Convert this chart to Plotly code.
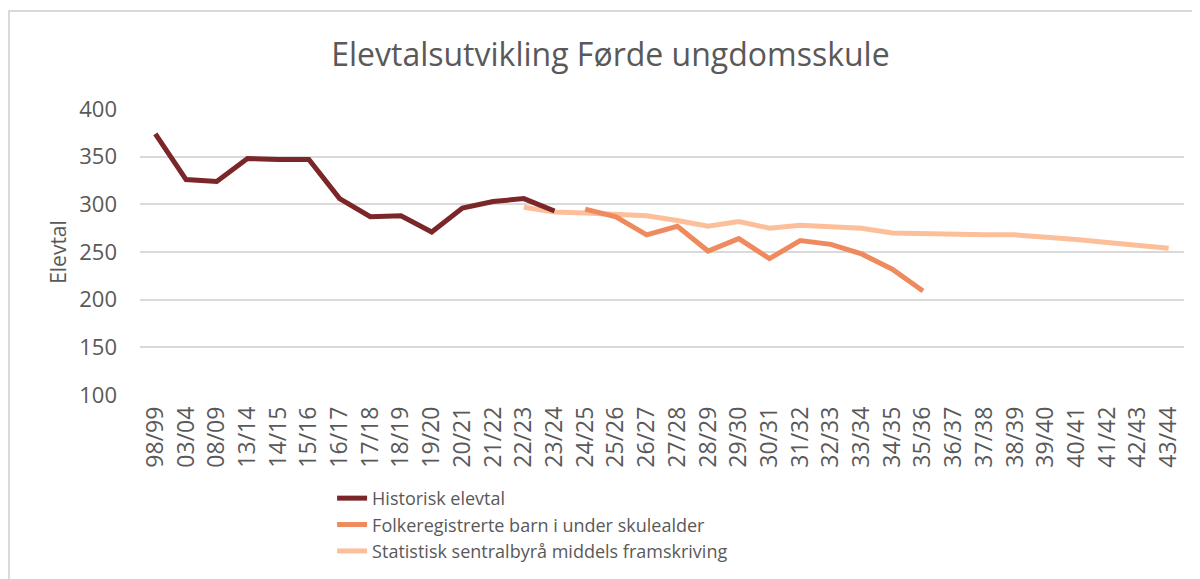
import plotly.graph_objects as go

categories = ["98/99", "03/04", "08/09", "13/14", "14/15", "15/16", "16/17", "17/18",
              "18/19", "19/20", "20/21", "21/22", "22/23", "23/24", "24/25", "25/26",
              "26/27", "27/28", "28/29", "29/30", "30/31", "31/32", "32/33", "33/34",
              "34/35", "35/36", "36/37", "37/38", "38/39", "39/40", "40/41", "41/42",
              "42/43", "43/44"]

historisk = [374, 326, 324, 348, 347, 347, 306, 287, 288, 271, 296, 303, 306, 293] + [None] * 20

folkeregister = [None] * 14 + [295, 287, 268, 277, 251, 264, 243, 262, 258, 248, 232, 209] + [None] * 8

ssb = [None] * 12 + [297, 292, 291, 289, 288, 283, 277, 282, 275, 278, 277, 275, 270, 269,
                     268, 268, 268, 266, 263, 260, 257, 254]

names = ["Historisk elevtal", "Folkeregistrerte barn i under skulealder",
         "Statistisk sentralbyrå middels framskriving"]
colors = ["#7b2628", "#ef8a5e", "#fdbf99"]

TEXT = "#595959"
FONT = "Open Sans"

fig = go.Figure()
for name, vals, col in zip(names, [historisk, folkeregister, ssb], colors):
    fig.add_trace(go.Scatter(x=categories, y=vals, name=name, mode="lines",
                             line=dict(color=col, width=5), connectgaps=False))

fig.data = (fig.data[2], fig.data[1], fig.data[0])

L, T, W, H = 132, 101, 1044, 286

fig.update_layout(
    width=1200, height=579,
    margin=dict(l=L, r=1200 - L - W, t=T, b=579 - T - H, autoexpand=False),
    paper_bgcolor="white", plot_bgcolor="white",
    font=dict(family=FONT, color=TEXT),
    title=dict(text="Elevtalsutvikling Førde ungdomsskule", x=0.502, xanchor="center",
               y=0.92, yanchor="middle", font=dict(size=32, color=TEXT, family=FONT)),
    showlegend=True,
    legend=dict(x=0.184, xanchor="left", y=-0.297, yanchor="top",
                font=dict(size=18, color=TEXT, family=FONT),
                traceorder="reversed", tracegroupgap=0, itemwidth=30,
                bgcolor="rgba(0,0,0,0)"),
    xaxis=dict(type="category", categoryorder="array", categoryarray=categories,
               range=[-0.5, len(categories) - 0.5], tickangle=-90,
               tickfont=dict(size=23, color=TEXT, family=FONT), automargin=False,
               ticklabelstandoff=6,
               showgrid=False, showline=False, ticks="", zeroline=False),
    yaxis=dict(range=[100, 400], tickvals=[100, 150, 200, 250, 300, 350, 400],
               tickfont=dict(size=22, color=TEXT, family=FONT), automargin=False,
               gridcolor="#d9d9d9", gridwidth=1.5, showline=False, zeroline=False,
               ticks="", ticklabelstandoff=22,
               title=dict(text="Elevtal", font=dict(size=21, color=TEXT, family=FONT),
                          standoff=6)),
)

fig.add_shape(type="rect", xref="paper", yref="paper",
              x0=(1 - L) / W, x1=(1230 - L) / W,
              y0=(T + H - 620) / H, y1=(T + H - 3) / H,
              line=dict(color="#d9d9d9", width=2), fillcolor="rgba(0,0,0,0)", layer="below")

fig.write_html("out.html")
